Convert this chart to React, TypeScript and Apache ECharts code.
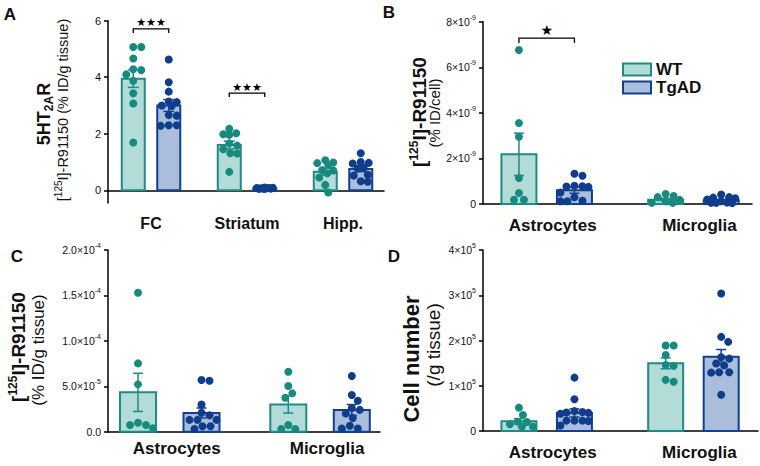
import React, { useEffect, useRef } from 'react';
import * as echarts from 'echarts';

// ---------- data ----------
const groupNames = ['WT', 'TgAD'];
const regionCategories = ['FC', 'Striatum', 'Hipp.'];
const cellCategories = ['Astrocytes', 'Microglia'];

// A: 5HT2AR, [125I]-R91150 (% ID/g tissue)
const aWtMean = [3.95, 1.6, 0.66];
const aWtSem = [0.31, 0.14, 0.12];
const aTgMean = [3.0, 0.07, 0.75];
const aTgSem = [0.21, 0.006, 0.09];
const aWtPoints = [
  [5.07, 5.07, 4.66, 4.28, 4.1, 4.25, 3.87, 3.43, 3.07, 1.69],
  [2.18, 2.02, 1.98, 1.96, 1.66, 1.58, 1.45, 1.31, 1.3, 0.65],
  [1.06, 0.98, 0.96, 0.9, 0.72, 0.7, 0.6, 0.45, 0.19, -0.08],
];
const aTgPoints = [
  [4.63, 3.82, 3.49, 3.14, 3.12, 3.0, 2.98, 2.66, 2.64, 2.3, 2.3, 2.28],
  [0.1, 0.09, 0.08, 0.08, 0.07, 0.07, 0.06, 0.06, 0.05, 0.05],
  [1.31, 1.0, 0.97, 0.95, 0.8, 0.77, 0.55, 0.52, 0.32, 0.3],
];
const aTicks = [0, 2, 4, 6];
const aTickLabels = ['0', '2', '4', '6'];
const aSigCategories = [0, 1];
const aSigHeights = [5.71, 3.44];
const aSigMarks = ['★★★', '★★★'];

// B: [125I]-R91150 (% ID/cell)
const bWtMean = [2.18e-9, 0.19e-9];
const bWtSem = [0.93e-9, 0.06e-9];
const bTgMean = [0.6e-9, 0.16e-9];
const bTgSem = [0.13e-9, 0.04e-9];
const bWtPoints = [
  [6.76e-9, 3.55e-9, 2.95e-9, 1.14e-9, 0.48e-9, 0.19e-9, 0.19e-9],
  [0.44e-9, 0.35e-9, 0.3e-9, 0.18e-9, 0.12e-9, 0.05e-9, 0.05e-9],
];
const bTgPoints = [
  [1.33e-9, 1.24e-9, 0.8e-9, 0.78e-9, 0.77e-9, 0.75e-9, 0.5e-9, 0.3e-9, 0.14e-9, 0.12e-9, 0.12e-9],
  [0.42e-9, 0.3e-9, 0.28e-9, 0.25e-9, 0.2e-9, 0.12e-9, 0.06e-9, 0.05e-9, 0.05e-9, 0.04e-9],
];
const bTicks = [0, 2e-9, 4e-9, 6e-9, 8e-9];
const bTickLabels = ['0', '2×10^-9', '4×10^-9', '6×10^-9', '8×10^-9'];
const bSigCategories = [0];
const bSigHeights = [7.28e-9];
const bSigMarks = ['★'];

// C: [125I]-R91150 (% ID/g tissue)
const cWtMean = [4.33e-5, 3.0e-5];
const cWtSem = [2.1e-5, 0.95e-5];
const cTgMean = [2.06e-5, 2.39e-5];
const cTgSem = [0.55e-5, 0.6e-5];
const cWtPoints = [
  [15.3e-5, 7.52e-5, 5.21e-5, 0.99e-5, 0.73e-5, 0.73e-5, 0.37e-5],
  [6.6e-5, 5.03e-5, 4.22e-5, 3.74e-5, 0.73e-5, 0.3e-5, 0.3e-5],
];
const cTgPoints = [
  [5.69e-5, 5.6e-5, 3.0e-5, 2.09e-5, 1.8e-5, 1.3e-5, 1.3e-5, 1.3e-5, 0.6e-5, 0.6e-5, 0.3e-5],
  [6.13e-5, 4.04e-5, 3.41e-5, 2.6e-5, 2.4e-5, 2.0e-5, 1.5e-5, 0.65e-5, 0.35e-5, 0.35e-5],
];
const cTicks = [0, 5e-5, 10e-5, 15e-5, 20e-5];
const cTickLabels = ['0.0', '5.0×10^-5', '1.0×10^-4', '1.5×10^-4', '2.0×10^-4'];

// D: Cell number (/g tissue)
const dWtMean = [2.14e4, 14.95e4];
const dWtSem = [0.6e4, 1.2e4];
const dTgMean = [3.98e4, 16.4e4];
const dTgSem = [0.9e4, 1.6e4];
const dWtPoints = [
  [5.16e4, 3.54e4, 2.06e4, 2.0e4, 1.5e4, 0.96e4, 0.96e4],
  [18.9e4, 18.9e4, 16.8e4, 14.6e4, 14.4e4, 11.3e4, 10.9e4],
];
const dTgPoints = [
  [11.8e4, 7.0e4, 4.4e4, 4.2e4, 4.1e4, 4.0e4, 3.8e4, 2.3e4, 2.3e4, 2.3e4, 2.2e4, 1.2e4],
  [30.4e4, 20.8e4, 19.7e4, 16.3e4, 16.0e4, 14.9e4, 14.5e4, 13.0e4, 13.0e4, 12.9e4, 8.0e4],
];
const dTicks = [0, 1e5, 2e5, 3e5, 4e5];
const dTickLabels = ['0', '1×10^5', '2×10^5', '3×10^5', '4×10^5'];

// ---------- styles / layout ----------
const FONT = '"Liberation Sans", Arial, Helvetica, sans-serif';
const STAR_FONT = '"DejaVu Sans", sans-serif';
const TXT = '#111111';
const WT_FILL = '#b3dcd8';
const WT_LINE = '#1f8b84';
const WT_DOT = '#178a80';
const TG_FILL = '#aabdda';
const TG_LINE = '#123f8e';
const TG_DOT = '#0f3c8b';

const panels = [
  {
    cats: regionCategories, wtMean: aWtMean, wtSem: aWtSem, tgMean: aTgMean, tgSem: aTgSem,
    wtPts: aWtPoints, tgPts: aTgPoints, ticks: aTicks, tickLabels: aTickLabels,
    sigCats: aSigCategories, sigY: aSigHeights, sigText: aSigMarks,
    left: 108, top: 20.7, width: 276, height: 182.3, xMin: -0.448, xMax: 2.427, yMin: -0.45, yMax: 6,
    offset: 17.75, barW: 23, capW: 11, labelMargin: 12, labelSize: 16, labelShift: 0,
    tickFont: 11, sigFont: 11, sigGap: 6, sigDrop: 4,
  },
  {
    cats: cellCategories, wtMean: bWtMean, wtSem: bWtSem, tgMean: bTgMean, tgSem: bTgSem,
    wtPts: bWtPoints, tgPts: bTgPoints, ticks: bTicks, tickLabels: bTickLabels,
    sigCats: bSigCategories, sigY: bSigHeights, sigText: bSigMarks,
    left: 483, top: 21.7, width: 269, height: 182.3, xMin: -0.434, xMax: 1.399, yMin: 0, yMax: 8e-9,
    offset: 27.75, barW: 35, capW: 10, labelMargin: 13, labelSize: 17, labelShift: 6,
    tickFont: 10.5, sigFont: 14, sigGap: 8, sigDrop: 5,
  },
  {
    cats: cellCategories, wtMean: cWtMean, wtSem: cWtSem, tgMean: cTgMean, tgSem: cTgSem,
    wtPts: cWtPoints, tgPts: cTgPoints, ticks: cTicks, tickLabels: cTickLabels,
    sigCats: [], sigY: [], sigText: [],
    left: 108, top: 250, width: 272, height: 181.7, xMin: -0.411, xMax: 1.399, yMin: 0, yMax: 2e-4,
    offset: 31.75, barW: 36, capW: 10, labelMargin: 8, labelSize: 17, labelShift: 7,
    tickFont: 10.5, sigFont: 14, sigGap: 8, sigDrop: 5,
  },
  {
    cats: cellCategories, wtMean: dWtMean, wtSem: dWtSem, tgMean: dTgMean, tgSem: dTgSem,
    wtPts: dWtPoints, tgPts: dTgPoints, ticks: dTicks, tickLabels: dTickLabels,
    sigCats: [], sigY: [], sigText: [],
    left: 483, top: 250, width: 275, height: 181, xMin: -0.434, xMax: 1.44, yMin: 0, yMax: 4e5,
    offset: 27.75, barW: 35, capW: 10, labelMargin: 13, labelSize: 17, labelShift: 6,
    tickFont: 10.5, sigFont: 14, sigGap: 8, sigDrop: 5,
  },
];

// beeswarm-like horizontal spread (pixels) so that dots do not overlap where possible
function swarm(values: number[], pxPerUnit: number, maxHalf: number, r: number): number[] {
  const idx = values.map((_, i) => i).sort((a, b) => values[b] - values[a]);
  const placed: [number, number][] = [];
  const out = values.map(() => 0);
  const cands: number[] = [0];
  for (let s = 1; s <= Math.floor(maxHalf); s++) cands.push(s, -s);
  for (const i of idx) {
    const y = values[i] * pxPerUnit;
    let best = 0;
    let bestD = -1;
    for (const c of cands) {
      let dmin = Infinity;
      for (const [px, py] of placed) dmin = Math.min(dmin, Math.hypot(px - c, py - y));
      if (dmin >= 2 * r) { best = c; break; }
      if (dmin > bestD + 0.5) { bestD = dmin; best = c; }
    }
    placed.push([best, y]);
    out[i] = best;
  }
  return out;
}

function richLabel(s: string, base = 'b', sup = 's') {
  const parts = s.split('^');
  return `{${base}|${parts[0]}}` + (parts[1] ? `{${sup}|${parts[1]}}` : '');
}

function buildOption() {
  const grid: any[] = [];
  const xAxis: any[] = [];
  const yAxis: any[] = [];
  const series: any[] = [];

  panels.forEach((p, i) => {
    const pxX = p.width / (p.xMax - p.xMin);
    const pxY = p.height / (p.yMax - p.yMin);
    const off = p.offset / pxX;
    grid.push({ left: p.left, top: p.top, width: p.width, height: p.height, containLabel: false });
    xAxis.push({
      gridIndex: i, type: 'value', min: p.xMin, max: p.xMax,
      axisLine: { show: true, onZero: true, lineStyle: { color: '#000', width: 1.5 } },
      axisTick: { show: false }, splitLine: { show: false },
      axisLabel: {
        customValues: p.cats.map((_, c) => c + p.labelShift / pxX),
        formatter: (v: number) => p.cats[Math.round(v)] ?? '',
        fontSize: p.labelSize, fontWeight: 'bold', color: TXT, fontFamily: FONT, margin: p.labelMargin,
      },
    });
    yAxis.push({
      gridIndex: i, type: 'value', min: p.yMin, max: p.yMax,
      axisLine: { show: true, onZero: false, lineStyle: { color: '#000', width: 1.5 } },
      axisTick: { show: true, length: 4, customValues: p.ticks, lineStyle: { color: '#000', width: 1.5 } },
      splitLine: { show: false },
      axisLabel: {
        customValues: p.ticks,
        margin: 7,
        formatter: (v: number) => {
          const k = p.ticks.findIndex((t) => Math.abs(t - v) <= Math.abs(t) * 1e-6 + 1e-30);
          return k >= 0 ? richLabel(p.tickLabels[k]) : '';
        },
        rich: {
          b: { fontSize: p.tickFont, lineHeight: 16, color: TXT, fontFamily: FONT },
          s: { fontSize: 7, lineHeight: 8, verticalAlign: 'top', color: TXT, fontFamily: FONT },
        },
      },
    });

    const groups = [
      { name: groupNames[0], mean: p.wtMean, sem: p.wtSem, pts: p.wtPts, fill: WT_FILL, line: WT_LINE, dot: WT_DOT, sign: -1 },
      { name: groupNames[1], mean: p.tgMean, sem: p.tgSem, pts: p.tgPts, fill: TG_FILL, line: TG_LINE, dot: TG_DOT, sign: 1 },
    ];
    groups.forEach((g) => {
      const w = p.barW;
      series.push({
        type: 'custom', name: g.name, xAxisIndex: i, yAxisIndex: i, z: 2, silent: true,
        itemStyle: { color: g.fill, borderColor: g.line, borderWidth: 2 },
        data: g.mean.map((m, c) => [c + g.sign * off, m]),
        renderItem: (_params: any, api: any) => {
          const x = api.value(0);
          const m = api.value(1);
          const top = api.coord([x, m]);
          const base = api.coord([x, 0]);
          return {
            type: 'rect',
            shape: { x: top[0] - w / 2, y: Math.min(top[1], base[1]), width: w, height: Math.abs(base[1] - top[1]) },
            style: { fill: g.fill, stroke: g.line, lineWidth: 2 },
          };
        },
      });
    });
    groups.forEach((g) => {
      const data: number[][] = [];
      g.pts.forEach((vals, c) => {
        const dx = swarm(vals, pxY, p.barW / 2 - 3, 4);
        vals.forEach((v, k) => data.push([c + g.sign * off + dx[k] / pxX, v]));
      });
      series.push({
        type: 'scatter', xAxisIndex: i, yAxisIndex: i, z: 3, silent: true,
        symbol: 'circle', symbolSize: 8, itemStyle: { color: g.dot, opacity: 1 }, data,
      });
    });
    groups.forEach((g) => {
      const hw = p.capW / 2;
      series.push({
        type: 'custom', xAxisIndex: i, yAxisIndex: i, z: 4, silent: true,
        data: g.mean.map((m, c) => [c + g.sign * off, m, g.sem[c]]),
        renderItem: (_params: any, api: any) => {
          const x = api.value(0);
          const m = api.value(1);
          const s = api.value(2);
          const t = api.coord([x, m + s]);
          const b = api.coord([x, m - s]);
          const st = { stroke: g.line, lineWidth: 1.5 };
          return {
            type: 'group',
            children: [
              { type: 'line', shape: { x1: t[0], y1: t[1], x2: b[0], y2: b[1] }, style: st },
              { type: 'line', shape: { x1: t[0] - hw, y1: t[1], x2: t[0] + hw, y2: t[1] }, style: st },
              { type: 'line', shape: { x1: b[0] - hw, y1: b[1], x2: b[0] + hw, y2: b[1] }, style: st },
            ],
          };
        },
      });
    });
    if (p.sigCats.length) {
      series.push({
        type: 'custom', xAxisIndex: i, yAxisIndex: i, z: 5, silent: true,
        data: p.sigCats.map((c, k) => [c - off, p.sigY[k], c + off]),
        renderItem: (params: any, api: any) => {
          const a = api.coord([api.value(0), api.value(1)]);
          const b = api.coord([api.value(2), api.value(1)]);
          const d = p.sigDrop;
          return {
            type: 'group',
            children: [
              {
                type: 'polyline',
                shape: { points: [[a[0], a[1] + d], [a[0], a[1]], [b[0], b[1]], [b[0], b[1] + d]] },
                style: { stroke: '#000', lineWidth: 1.3, fill: null },
              },
              {
                type: 'text', x: (a[0] + b[0]) / 2, y: a[1] - p.sigGap,
                style: {
                  text: p.sigText[params.dataIndex], fontSize: p.sigFont, fontFamily: STAR_FONT,
                  fill: '#000', align: 'center', verticalAlign: 'middle',
                },
              },
            ],
          };
        },
      });
    }
  });

  const letter = (t: string, x: number, y: number) => ({
    type: 'text', x, y,
    style: { text: t, fontSize: 17, fontWeight: 'bold', fontFamily: FONT, fill: TXT, align: 'center', verticalAlign: 'middle' },
  });
  const vtext = (x: number, y: number, text: string, rich: any) => ({
    type: 'text', x, y, rotation: Math.PI / 2,
    style: { text, rich, align: 'center', verticalAlign: 'middle', fill: TXT },
  });
  const boldRich = (size: number) => ({
    n: { fontSize: size, fontWeight: 'bold', fontFamily: FONT, lineHeight: size + 4, fill: TXT },
    s: { fontSize: Math.round(size * 0.65), fontWeight: 'bold', fontFamily: FONT, lineHeight: Math.round(size * 0.6), verticalAlign: 'top', fill: TXT },
    sub: { fontSize: Math.round(size * 0.65), fontWeight: 'bold', fontFamily: FONT, lineHeight: Math.round(size * 0.55), verticalAlign: 'bottom', fill: TXT },
  });
  const normRich = (size: number) => ({
    n: { fontSize: size, fontFamily: FONT, lineHeight: size + 4, fill: TXT },
    s: { fontSize: Math.round(size * 0.68), fontFamily: FONT, lineHeight: Math.round(size * 0.6), verticalAlign: 'top', fill: TXT },
  });

  const graphic = [
    letter('A', 10, 14),
    letter('B', 389, 12),
    letter('C', 17, 256),
    letter('D', 394, 256),
    vtext(44, 114, '{n|5HT}{sub|2A}{n|R}', boldRich(18)),
    vtext(63, 110, '{n|[}{s|125}{n|I]-R91150 (% ID/g tissue)}', normRich(14.5)),
    vtext(419, 112, '{n|[}{s|125}{n|I]-R91150}', boldRich(19)),
    vtext(434, 113, '{n|(% ID/cell)}', normRich(15)),
    vtext(18, 347, '{n|[}{s|125}{n|I]-R91150}', boldRich(19)),
    vtext(38, 350, '{n|(% ID/g tissue)}', normRich(17)),
    vtext(411, 359, '{n|Cell number}', boldRich(22)),
    vtext(433, 345, '{n|(/g tissue)}', normRich(19)),
  ];

  return {
    animation: false,
    backgroundColor: '#ffffff',
    grid, xAxis, yAxis, series, graphic,
    legend: {
      show: true, orient: 'vertical', left: 617, top: 56, itemWidth: 28, itemHeight: 12, itemGap: 1,
      icon: 'rect', selectedMode: false,
      textStyle: { fontSize: 17, fontWeight: 'bold', color: TXT, fontFamily: FONT },
      data: [
        { name: groupNames[0], itemStyle: { color: WT_FILL, borderColor: WT_LINE, borderWidth: 2 } },
        { name: groupNames[1], itemStyle: { color: TG_FILL, borderColor: TG_LINE, borderWidth: 2 } },
      ],
    },
  };
}

export default function App() {
  const ref = useRef<HTMLDivElement>(null);
  useEffect(() => {
    if (!ref.current) return;
    const chart = echarts.init(ref.current, undefined, { renderer: 'svg' });
    chart.setOption(buildOption() as any);
    return () => chart.dispose();
  }, []);
  return <div ref={ref} style={{ position: 'absolute', left: 0, top: 0, width: 760, height: 466 }} />;
}
